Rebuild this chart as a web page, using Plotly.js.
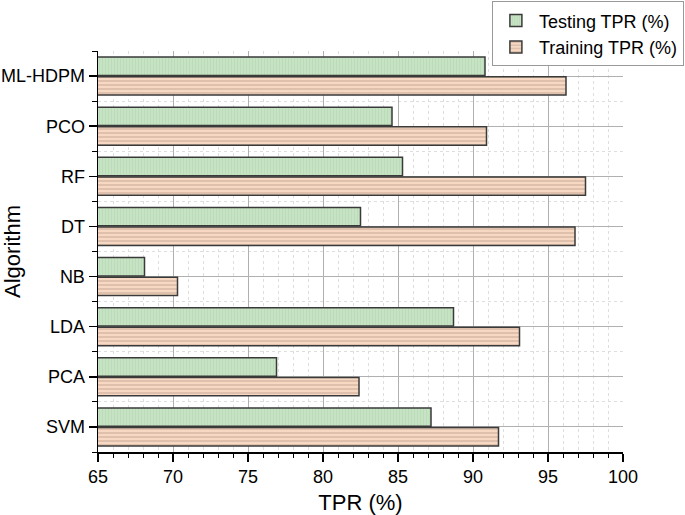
<!DOCTYPE html>
<html>
<head>
<meta charset="utf-8">
<script src="https://cdn.plot.ly/plotly-3.0.1.min.js"></script>
<style>html,body{margin:0;padding:0;background:#fff;}</style>
</head>
<body>
<div id="chart" style="width:685px;height:515px;"></div>
<script>
const categories = ['ML-HDPM', 'PCO', 'RF', 'DT', 'NB', 'LDA', 'PCA', 'SVM'];
const testingTPR = [90.8, 84.6, 85.3, 82.5, 68.1, 88.7, 76.9, 87.2];
const trainingTPR = [96.2, 90.9, 97.5, 96.8, 70.3, 93.1, 82.4, 91.7];
const xTicks = [65, 70, 75, 80, 85, 90, 95, 100];
const seriesNames = ['Testing TPR (%)', 'Training TPR (%)'];

const pos = categories.map((c, i) => i);
const font = 'Liberation Sans, Arial, sans-serif';

const traces = [
  {
    type: 'bar', orientation: 'h', name: seriesNames[0],
    x: testingTPR, y: pos,
    marker: {
      color: '#c6e3c4',
      line: {color: '#3a3a3a', width: 1.5},
      pattern: {shape: '|', fgcolor: '#b8d8b6', bgcolor: '#c6e3c4', size: 3, solidity: 0.25}
    }
  },
  {
    type: 'bar', orientation: 'h', name: seriesNames[1],
    x: trainingTPR, y: pos,
    marker: {
      color: '#f6d8c3',
      line: {color: '#3a3a3a', width: 1.5},
      pattern: {shape: '-', fgcolor: '#c7a995', bgcolor: '#f6d8c3', size: 4, solidity: 0.25}
    }
  }
];

const layout = {
  width: 685, height: 515,
  margin: {l: 98, r: 62, t: 51, b: 63, autoexpand: false},
  paper_bgcolor: '#fff', plot_bgcolor: '#fff',
  font: {family: font, color: '#000'},
  barmode: 'group', bargap: 0.22, bargroupgap: 0.06,
  showlegend: true,
  legend: {
    x: 1.116, xanchor: 'right', y: 1.124, yanchor: 'top',
    bordercolor: '#999', borderwidth: 1, bgcolor: '#fff',
    font: {size: 18, family: font}, tracegroupgap: 0, traceorder: 'normal', itemwidth: 36
  },
  xaxis: {
    range: [65, 100], tickmode: 'array', tickvals: xTicks, ticktext: xTicks.map(String),
    ticks: 'outside', ticklen: 8, tickwidth: 1.5, tickcolor: '#000',
    showline: true, linecolor: '#000', linewidth: 1.5, zeroline: false,
    showgrid: true, gridcolor: '#b0b0b0', gridwidth: 1,
    minor: {tickmode: 'linear', tick0: 65, dtick: 1, ticks: 'outside', ticklen: 4, tickwidth: 1, tickcolor: '#000',
            showgrid: true, gridcolor: '#dedede', gridwidth: 1, griddash: 'dot'},
    tickfont: {size: 18, family: font},
    title: {text: 'TPR (%)', font: {size: 22, family: font}, standoff: 8}
  },
  yaxis: {
    range: [7.5, -0.5], tickmode: 'array', tickvals: pos, ticktext: categories,
    ticks: 'outside', ticklen: 8, tickwidth: 1.5, tickcolor: '#000',
    showline: true, linecolor: '#000', linewidth: 1.5, zeroline: false,
    showgrid: true, gridcolor: '#b0b0b0', gridwidth: 1,
    minor: {tickmode: 'linear', tick0: 0.5, dtick: 1, ticks: 'outside', ticklen: 5, tickwidth: 1, tickcolor: '#000',
            showgrid: true, gridcolor: '#dedede', gridwidth: 1, griddash: 'dot'},
    tickfont: {size: 18, family: font},
    title: {text: 'Algorithm', font: {size: 22, family: font}, standoff: 8}
  }
};

Plotly.newPlot('chart', traces, layout, {displayModeBar: false, staticPlot: true});
</script>
</body>
</html>
